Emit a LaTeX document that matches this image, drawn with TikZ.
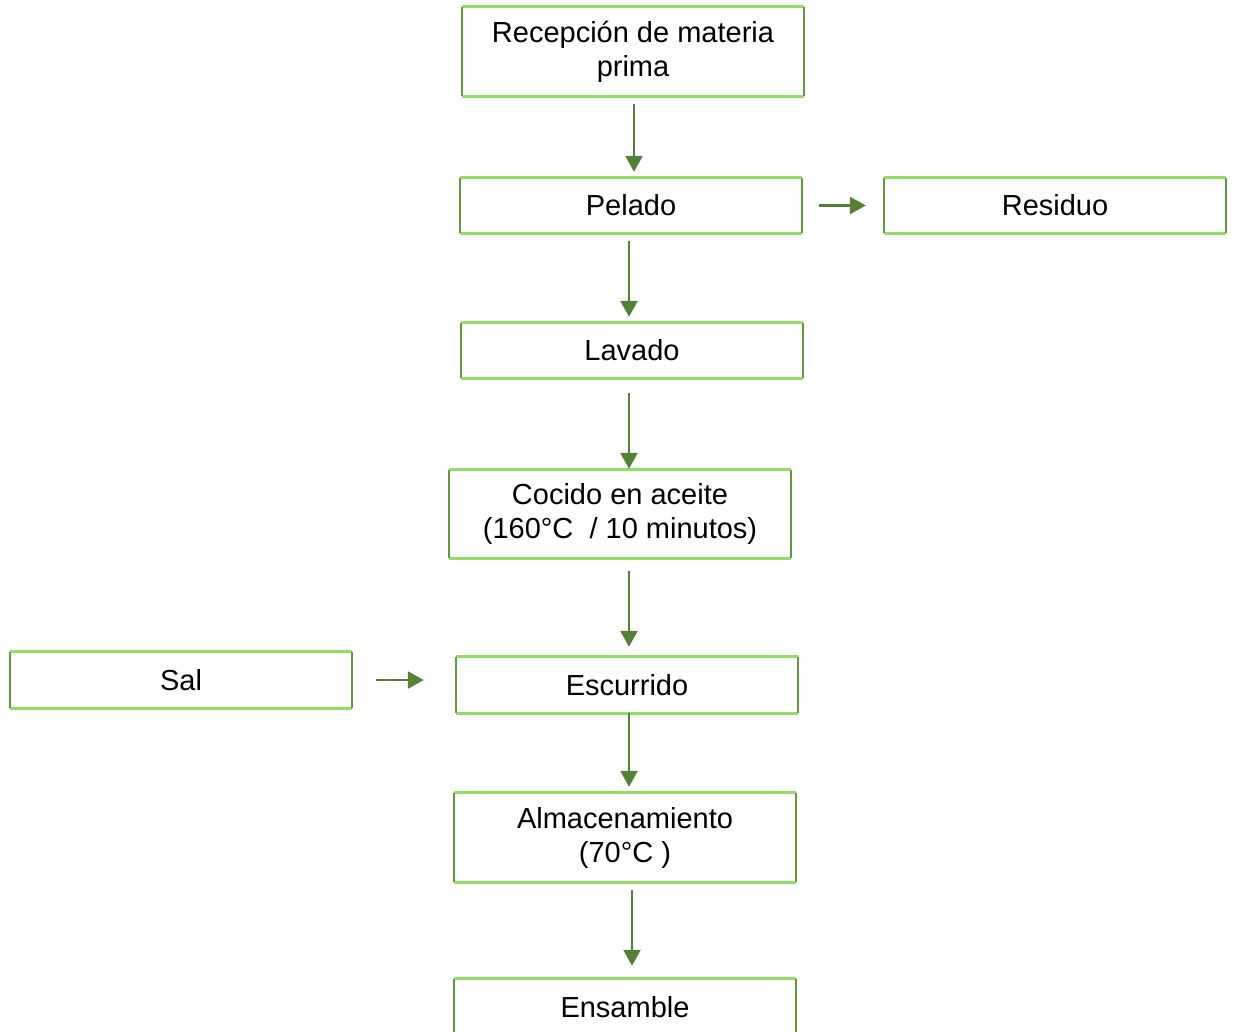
\documentclass[tikz,border=0pt]{standalone}
\usepackage{fontspec}
\setmainfont{Liberation Sans}
\usetikzlibrary{arrows.meta}
\definecolor{edgelight}{HTML}{92DE62}
\definecolor{edgedark}{HTML}{62993A}
\definecolor{arrowgreen}{HTML}{538135}
\tikzset{
  x=1pt, y=-1pt,
  stepbox/.style={minimum width=342pt, inner sep=0pt, align=center,
    font=\fontsize{29}{34}\selectfont},
  flow/.style={draw=arrowgreen, line width=2.6pt,
    -{Triangle[length=16pt,width=17pt]}}
}
% two-tone frame: light top and bottom edges, darker sides
\newcommand\stepframe[1]{%
  \draw[edgelight, line width=3pt] (#1.north west) -- (#1.north east)
                                   (#1.south west) -- (#1.south east);
  \draw[edgedark, line width=2.5pt] (#1.north west) -- (#1.south west)
                                    (#1.north east) -- (#1.south east);}
\begin{document}
\begin{tikzpicture}
\useasboundingbox (0,0) rectangle (1233,1031);
\clip (0,0) rectangle (1233,1031);
% process steps
\node[stepbox, minimum height=89pt] (recep) at (633,51.5) {Recepción de materia\\prima};
\node[stepbox, minimum height=55pt] (pelado) at (631,205.5) {Pelado};
\node[stepbox, minimum height=55pt] (residuo) at (1055,205.5) {Residuo};
\node[stepbox, minimum height=55pt] (lavado) at (632,350.5) {Lavado};
\node[stepbox, minimum height=88pt] (cocido) at (620,514) {Cocido en aceite\\(160°C \ / 10 minutos)};
\node[stepbox, minimum height=56pt] (sal) at (181,680) {Sal};
\node[stepbox, minimum height=56pt] (escurrido) at (627,685) {Escurrido};
\node[stepbox, minimum height=89pt] (almac) at (625,837.5) {Almacenamiento\\(70°C )};
\node[stepbox, minimum height=100pt] (ensamble) at (625,1029) {};
\node[font=\fontsize{29}{34}\selectfont] (ensambletxt) at (625,1007) {Ensamble};
\foreach \n in {recep,pelado,residuo,lavado,cocido,sal,escurrido,almac,ensamble}
  {\stepframe{\n}}
% connectors
\draw[flow] ([xshift=1pt,yshift=-8pt]recep.south) -- ([xshift=3pt,yshift=6pt]pelado.north);
\draw[flow] ([xshift=17pt]pelado.east) -- ([xshift=-18pt]residuo.west);
\draw[flow] ([xshift=-2pt,yshift=-8pt]pelado.south) -- ([xshift=-3pt,yshift=6pt]lavado.north);
\draw[flow] ([xshift=-3pt,yshift=-15pt]lavado.south) -- ([xshift=9pt,yshift=1pt]cocido.north);
\draw[flow] ([xshift=9pt,yshift=-13pt]cocido.south) -- ([xshift=2pt,yshift=10pt]escurrido.north);
\draw[flow] ([xshift=24pt]sal.east) -- ([xshift=-32pt,yshift=5pt]escurrido.west);
\draw[flow] ([xshift=2pt]escurrido.south) -- ([xshift=4pt,yshift=6pt]almac.north);
\draw[flow] ([xshift=7pt,yshift=-8pt]almac.south) -- ([xshift=7pt,yshift=13pt]ensamble.north);
\end{tikzpicture}
\end{document}
